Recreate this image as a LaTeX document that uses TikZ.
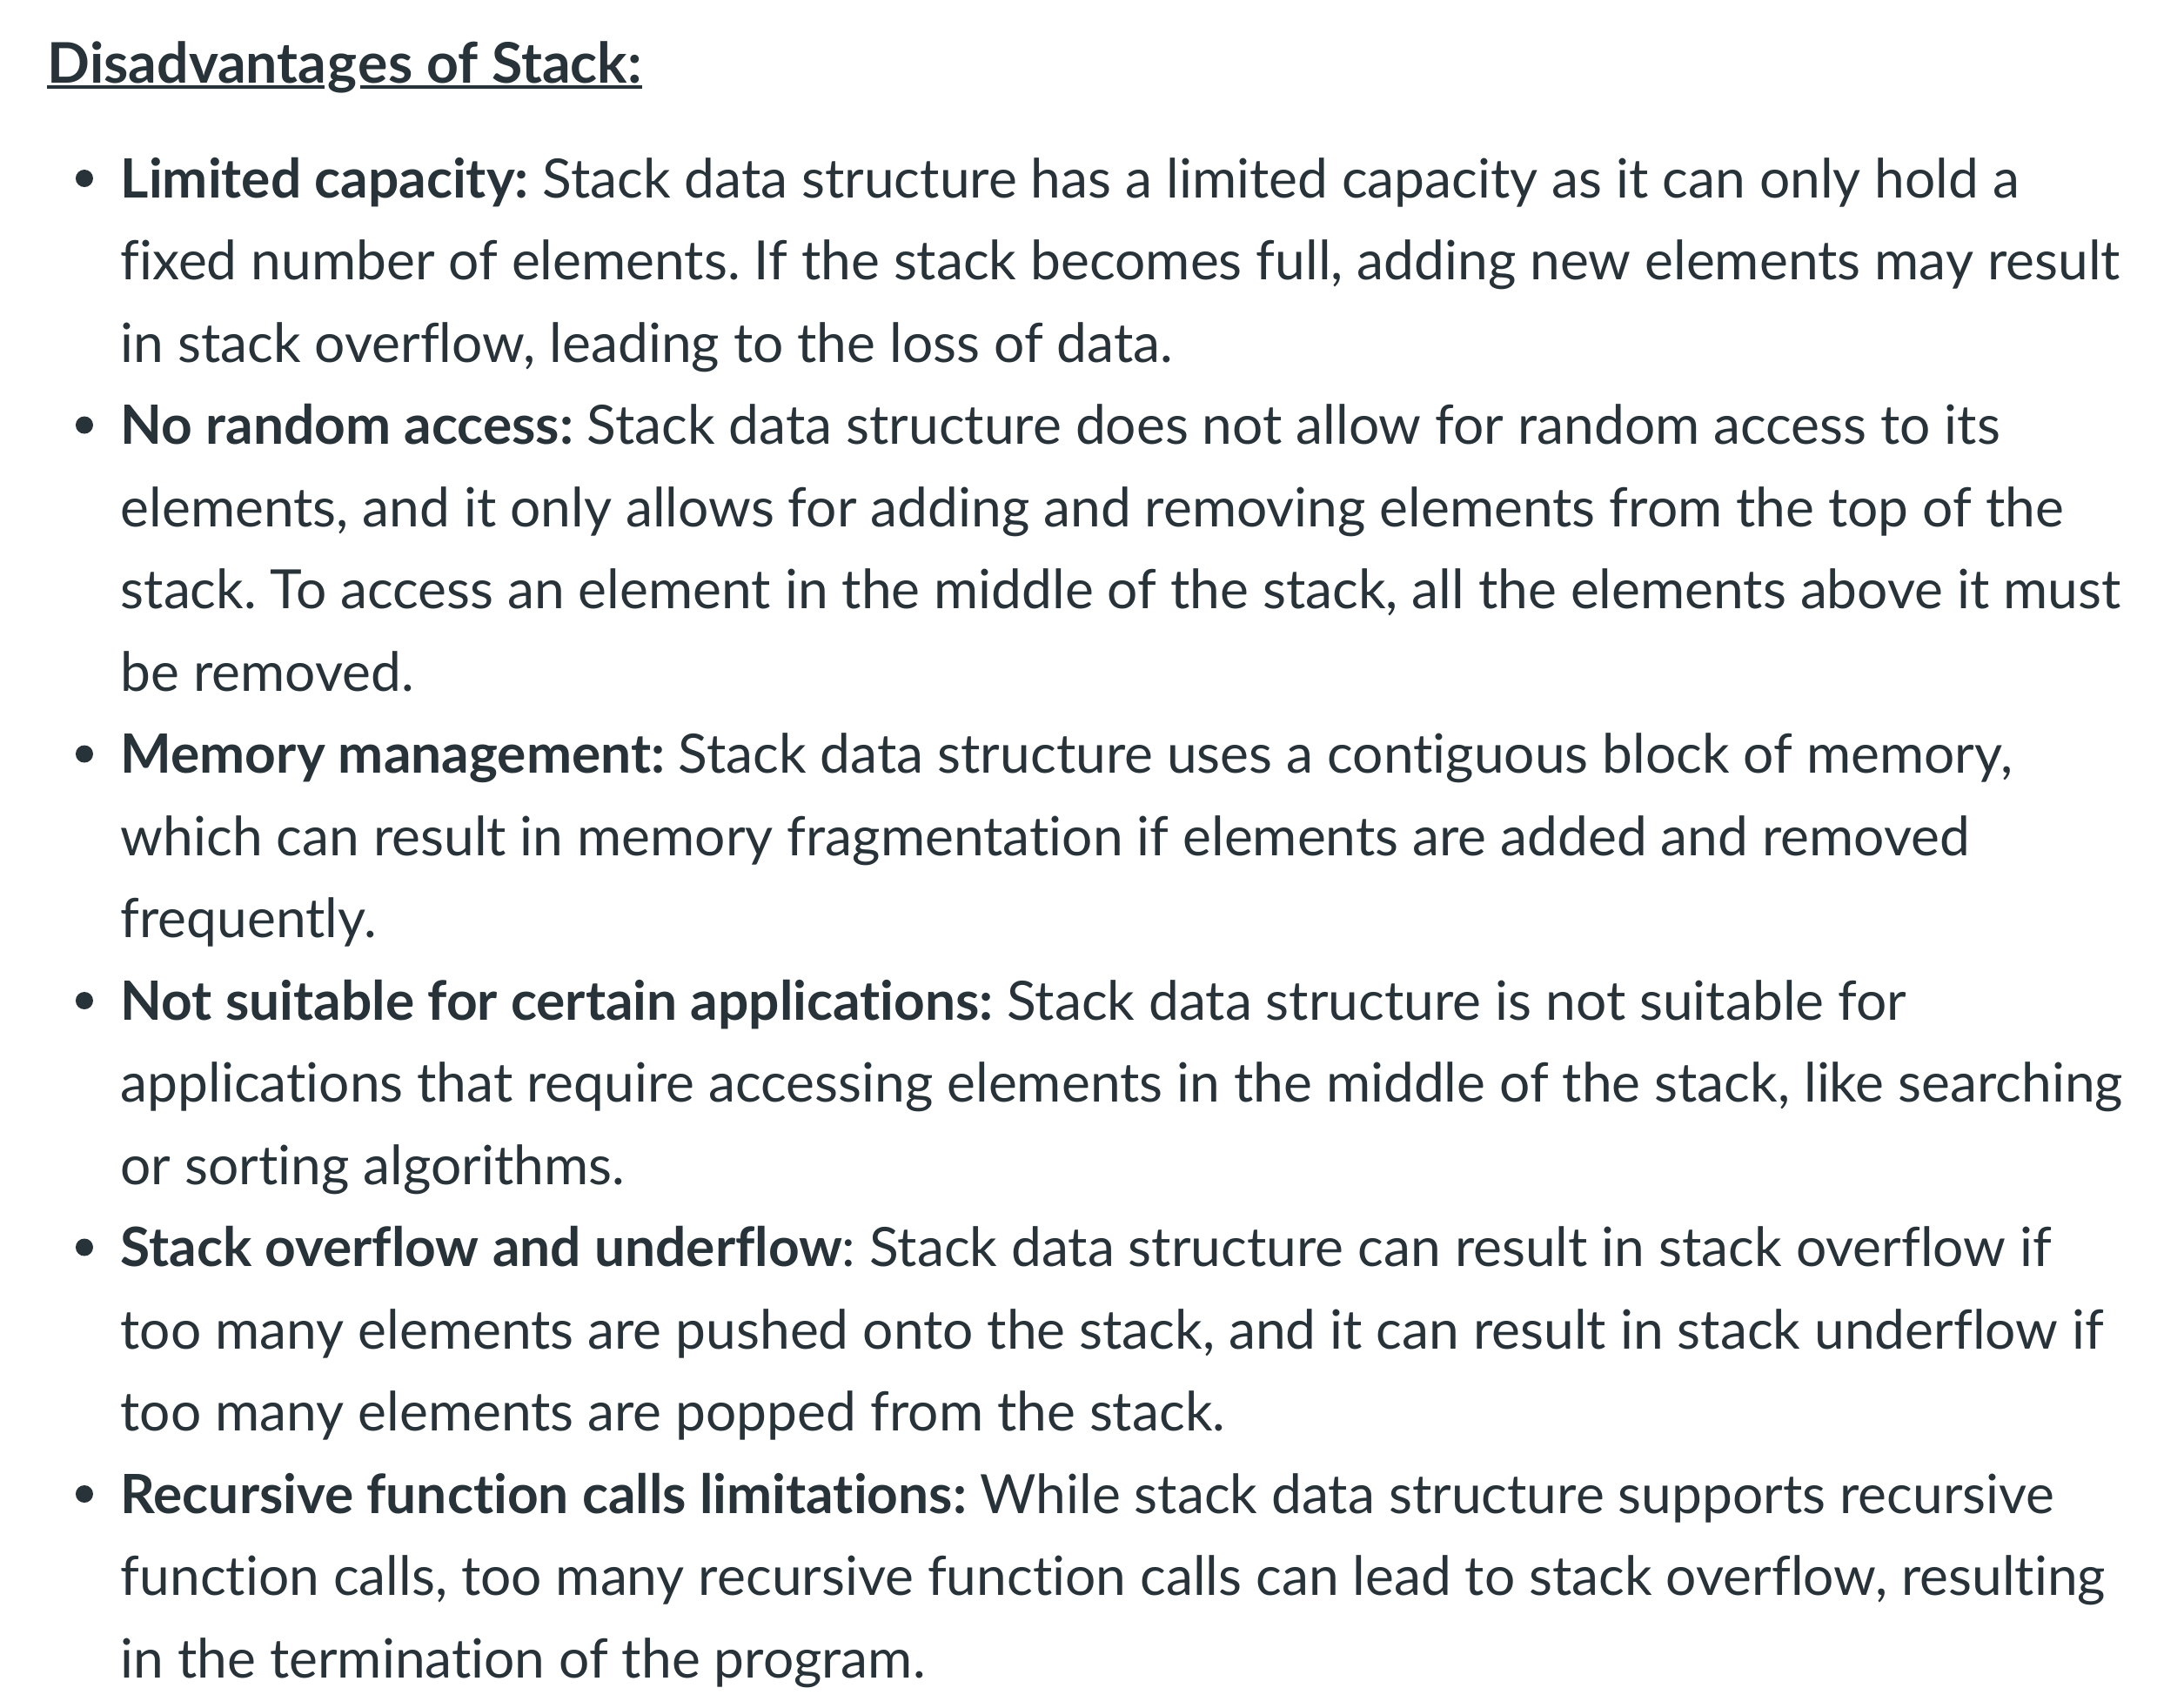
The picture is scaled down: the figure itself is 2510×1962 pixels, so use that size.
\documentclass[tikz,border=0pt]{standalone}
\usepackage{fontspec}
\setmainfont{Lato}[Ligatures=NoCommon]
\frenchspacing
\definecolor{ink}{HTML}{273239}
\tikzset{
  line/.style={anchor=base west, inner sep=0pt, text=ink, font=\fontsize{17.7}{27}\selectfont},
  head/.style={line, font=\fontsize{18.3}{27}\selectfont\bfseries},
  dot/.style={fill=ink}
}
\begin{document}
\begin{tikzpicture}[x=0.01cm, y=-0.01cm]
		\useasboundingbox[fill=white] (0,0) rectangle (2510,1962);
		
		% heading, underline skips the g
		\node[head] (h1) at (54,95) {Disadvanta};
		\node[head] (h2) at (h1.base east) {g};
		\node[head] (h3) at (h2.base east) {es of Stack:\ };
		\draw[ink, line width=0.04cm] ([yshift=-0.05cm]h1.base west) -- ([xshift=-0.03cm,yshift=-0.05cm]h2.base west);
		\draw[ink, line width=0.04cm] ([xshift=0.03cm,yshift=-0.05cm]h2.base east) -- ([yshift=-0.05cm]h3.base east);
		
		% limited capacity
		\node[line] (a1) at (138,227) {\textbf{Limited capacity:} Stack data structure has a limited capacity as it can only hold a};
		\node[line] (a2) at (138,321.5) {fixed number of elements. If the stack becomes full, adding new elements may result};
		\node[line] (a3) at (138,416) {in stack overflow, leading to the loss of data.};
		
		% random access
		\node[line] (b1) at (138,510.5) {\textbf{No random access:} Stack data structure does not allow for random access to its};
		\node[line] (b2) at (138,605) {elements, and it only allows for adding and removing elements from the top of the};
		\node[line] (b3) at (138,699.5) {stack. To access an element in the middle of the stack, all the elements above it must};
		\node[line] (b4) at (138,794) {be removed.};
		
		% memory
		\node[line] (c1) at (138,888.5) {\textbf{Memory management:} Stack data structure uses a contiguous block of memory,};
		\node[line] (c2) at (138,983) {which can result in memory fragmentation if elements are added and removed};
		\node[line] (c3) at (138,1077.5) {frequently.};
		
		% applications
		\node[line] (d1) at (138,1172) {\textbf{Not suitable for certain applications:} Stack data structure is not suitable for};
		\node[line] (d2) at (138,1266.5) {applications that require accessing elements in the middle of the stack, like searching};
		\node[line] (d3) at (138,1361) {or sorting algorithms.};
		
		% overflow
		\node[line] (e1) at (138,1455.5) {\textbf{Stack overflow and underflow}: Stack data structure can result in stack overflow if};
		\node[line] (e2) at (138,1550) {too many elements are pushed onto the stack, and it can result in stack underflow if};
		\node[line] (e3) at (138,1644.5) {too many elements are popped from the stack.};
		
		% recursion
		\node[line] (f1) at (138,1739) {\textbf{Recursive function calls limitations:} While stack data structure supports recursive};
		\node[line] (f2) at (138,1833.5) {function calls, too many recursive function calls can lead to stack overflow, resulting};
		\node[line] (f3) at (138,1928) {in the termination of the program.};
		
		% bullets
		\foreach \n in {a1,b1,c1,d1,e1,f1}
		\fill[dot] ([xshift=-0.41cm,yshift=0.22cm]\n.base west) circle[radius=0.1cm];
		\end{tikzpicture}
\end{document}
